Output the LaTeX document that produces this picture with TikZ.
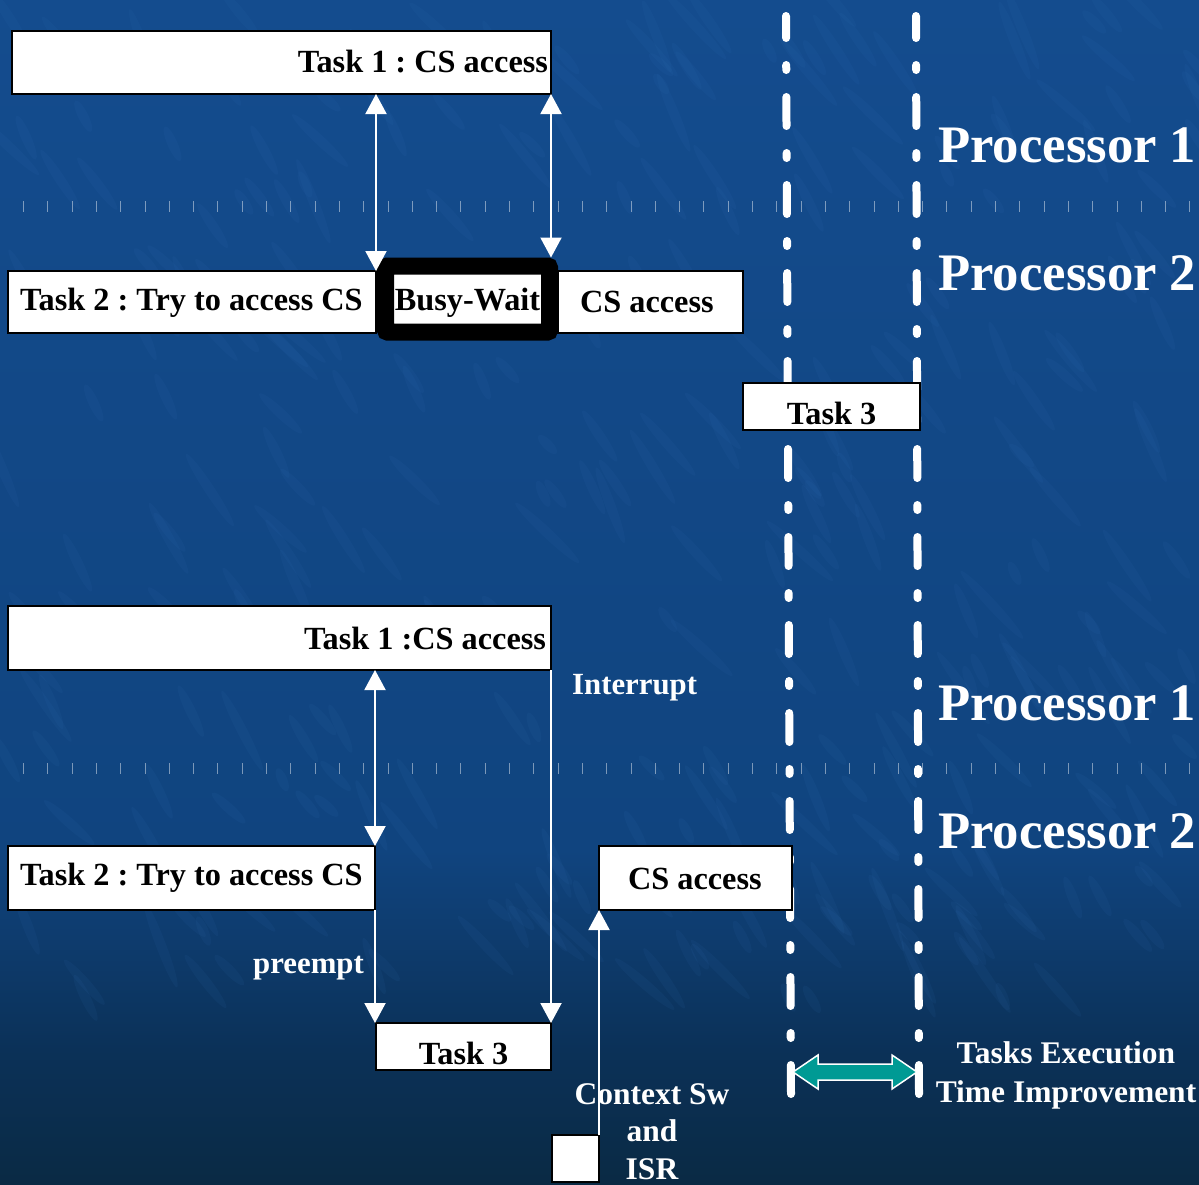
\documentclass[tikz,border=0pt]{standalone}
\usepackage{fontspec}
\setmainfont{Liberation Serif}
\usetikzlibrary{arrows.meta}
\definecolor{bgA}{HTML}{144C8E}
\definecolor{bgB}{HTML}{10447F}
\definecolor{bgC}{HTML}{0B3158}
\definecolor{bgD}{HTML}{0A2A44}
\definecolor{tealarrow}{HTML}{009A94}
\definecolor{streak}{HTML}{3A78C0}
\frenchspacing
\begin{document}
\begin{tikzpicture}[x=1pt,y=-1pt,
  box/.style={draw=black, line width=2pt, fill=white, inner sep=0pt, outer sep=0pt, anchor=north west,
              font=\fontsize{32.3}{38}\selectfont\bfseries},
  lbl/.style={text=white, inner sep=0pt, anchor=base, font=\fontsize{31.5}{38.5}\selectfont\bfseries},
  proc/.style={text=white, inner sep=0pt, anchor=base west, font=\fontsize{52.7}{60}\selectfont\bfseries},
  conn/.style={draw=white, line width=2pt, -{Triangle[width=21pt,length=20pt]}},
  dconn/.style={draw=white, line width=2pt, {Triangle[width=21pt,length=20pt]}-{Triangle[width=21pt,length=20pt]}},
  vdash/.style={draw=white, line width=8pt, line cap=round, dash pattern=on 29pt off 27pt on 5pt off 27pt, dash phase=7pt},
  ticks/.style={draw=white, draw opacity=0.45, line width=11pt, dash pattern=on 1pt off 23.3pt},
]
\useasboundingbox (0,0) rectangle (1199,1184);
% background
\shade[top color=bgA, bottom color=bgB] (0,0) rectangle (1199,850);
\shade[top color=bgB, bottom color=bgC] (0,849.5) rectangle (1199,1050);
\shade[top color=bgC, bottom color=bgD] (0,1049.5) rectangle (1199,1184);
\begin{scope}
  \clip (0,0) rectangle (1199,1184);
  \pgfmathsetseed{17}
  \foreach \i in {1,...,320} {
    \pgfmathsetmacro\xx{rnd*1199}
    \pgfmathsetmacro\yy{rnd*1000}
    \pgfmathsetmacro\rr{12+rnd*34}
    \pgfmathsetmacro\aa{-40-rnd*30}
    \fill[streak, opacity=0.08, rotate around={\aa:(\xx,\yy)}] (\xx,\yy) ellipse [x radius=\rr, y radius=5];
  }
\end{scope}
% processor separators
\draw[ticks] (23,206) -- (1199,206);
\draw[ticks] (23,768) -- (1199,768);
% time lines
\draw[vdash] (786,16) -- (791,1094);
\draw[vdash] (916,16) -- (919,1094);
% ---- top scenario ----
\node[box, minimum width=539pt, minimum height=63pt, inner xsep=3pt,
      text height=22pt, text depth=2pt] (T1a) at (12,31) {\makebox[533pt][r]{Task 1 : CS access}};
\node[box, minimum width=368pt, minimum height=62pt, inner xsep=12pt,
      text height=22pt, text depth=6pt] (T2a) at (8,271) {\makebox[344pt][l]{Task 2 : Try to access CS}};
\node[box, minimum width=185pt, minimum height=62pt, inner xsep=22pt,
      text height=22pt, text depth=2pt] (CSa) at (558,271) {\makebox[141pt][l]{CS access}};
\node[box, line width=17pt, rounded corners=2pt, outer sep=8.5pt, minimum width=164pt, minimum height=66pt,
      text height=24pt, text depth=2pt, anchor=center] (BW) at (467.5,299) {Busy-Wait};
\node[box, minimum width=177pt, minimum height=47pt, text height=37pt, text depth=2pt] (T3a) at (743,383) {Task 3};
\draw[dconn] (T1a.south -| T2a.north east) -- (T2a.north east);
\draw[dconn] (T1a.south east) -- (T1a.south east |- BW.north);
% ---- bottom scenario ----
\node[box, minimum width=543pt, minimum height=64pt, inner xsep=5pt,
      text height=24pt, text depth=2pt] (T1b) at (8,606) {\makebox[533pt][r]{Task 1 :CS access}};
\node[box, minimum width=367pt, minimum height=64pt, inner xsep=12pt,
      text height=22pt, text depth=8pt] (T2b) at (8,846) {\makebox[343pt][l]{Task 2 : Try to access CS}};
\node[box, minimum width=193pt, minimum height=64pt, inner xsep=29pt,
      text height=24pt, text depth=2pt] (CSb) at (599,846) {\makebox[135pt][l]{CS access}};
\node[box, minimum width=175pt, minimum height=47pt, text height=37pt, text depth=2pt] (T3b) at (376,1023) {Task 3};
\node[box, minimum width=47pt, minimum height=47pt] (ISR) at (552,1135) {};
\draw[dconn] (T1b.south -| T2b.north east) -- (T2b.north east);
\draw[conn] (T1b.south east) -- (T3b.north east);
\draw[conn] (T2b.south east) -- (T2b.south east |- T3b.north);
\draw[conn] (ISR.north east) -- (CSb.south west);
\node[lbl, anchor=base west, font=\fontsize{30.8}{38}\selectfont\bfseries] (intr) at (572,694) {Interrupt};
\node[lbl, anchor=base east, font=\fontsize{30.8}{38}\selectfont\bfseries] (pre) at (364,973) {preempt};
\node[lbl, align=center, font=\fontsize{31.5}{37.5}\selectfont\bfseries] (ctx) at (652,1179) {Context Sw\\and\\ISR};
% improvement arrow
\draw[draw=white, line width=1.5pt, fill=tealarrow, line join=miter]
  (793,1072) -- (818,1055) -- (818,1064) -- (892,1064) -- (892,1055) -- (917,1072)
  -- (892,1089) -- (892,1080) -- (818,1080) -- (818,1089) -- cycle;
\node[lbl, align=center, font=\fontsize{31.5}{39}\selectfont\bfseries] (tei) at (1066,1102) {Tasks Execution\\Time Improvement};
% processor labels
\node[proc] (p1a) at (938,162) {Processor 1};
\node[proc] (p2a) at (938,290) {Processor 2};
\node[proc] (p1b) at (938,720) {Processor 1};
\node[proc] (p2b) at (938,848) {Processor 2};
\end{tikzpicture}
\end{document}
